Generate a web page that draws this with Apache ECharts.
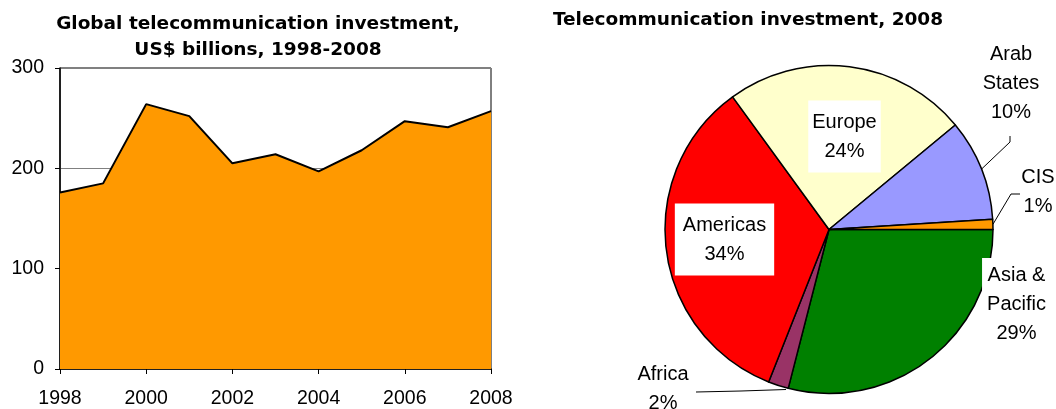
<!DOCTYPE html>
<html>
<head>
<meta charset="utf-8">
<script src="https://cdn.jsdelivr.net/npm/echarts@6/dist/echarts.min.js"></script>
<style>
  html, body { margin: 0; padding: 0; background: #fff; }
  #chart { width: 1056px; height: 409px; }
</style>
</head>
<body>
<div id="chart"></div>
<script>
// Global telecom investment, US$ billions
const years = ['1998', '1999', '2000', '2001', '2002', '2003', '2004', '2005', '2006', '2007', '2008'];
const investment = [176, 185, 264, 252, 205, 214, 197, 218, 247, 241, 257];
const yMin = 0, yMax = 300, yStep = 100;

// Regional shares of 2008 investment (%)
const regions = ['Asia & Pacific', 'Africa', 'Americas', 'Europe', 'Arab States', 'CIS'];
const shares2008 = [29, 2, 34, 24, 10, 1];

const regionColors = {
  'Asia & Pacific': '#008000',
  'Africa': '#993366',
  'Americas': '#FF0000',
  'Europe': '#FFFFCC',
  'Arab States': '#9999FF',
  'CIS': '#FF9900'
};

// Where each region's label sits, and the bends of its leader line
const labelPlacement = {
  'Asia & Pacific': { x: 1016.5, y: 304.5, box: true, pad: [3, 5, 3, 5] },
  'Africa':         { x: 663, y: 389, line: [[741, 391], [696, 392]], lineStart: [786, 389.5] },
  'Americas':       { x: 724.5, y: 239.5, box: true, pad: [7, 8] },
  'Europe':         { x: 844.5, y: 136.5, box: true, pad: [7, 4] },
  'Arab States':    { x: 1011, y: 83, line: [[1010, 142], [1010, 136]] },
  'CIS':            { x: 1038, y: 192, line: [[1011, 194], [1020, 194]] }
};

const baseFont = "'Liberation Sans', Arial, Helvetica, sans-serif";
const titleFont = "'DejaVu Sans', 'Liberation Sans', Arial, sans-serif";

const pieData = regions.map((name, i) => {
  const place = labelPlacement[name];
  return {
    name: name,
    value: shares2008[i],
    itemStyle: { color: regionColors[name] },
    label: place.box
      ? { backgroundColor: '#fff', padding: place.pad }
      : { backgroundColor: 'transparent', padding: 0 },
    labelLine: { show: !!place.line }
  };
});

const chart = echarts.init(document.getElementById('chart'), null, { renderer: 'canvas' });

chart.setOption({
  animation: false,
  backgroundColor: '#fff',
  title: [
    {
      text: 'Global telecommunication investment,\nUS$ billions, 1998-2008',
      left: 258, top: 11, textAlign: 'center', padding: 0,
      textStyle: { fontFamily: titleFont, fontWeight: 'bold', fontSize: 18.5, lineHeight: 26, color: '#000' }
    },
    {
      text: 'Telecommunication investment, 2008',
      left: 748, top: 7, textAlign: 'center', padding: 0,
      textStyle: { fontFamily: titleFont, fontWeight: 'bold', fontSize: 18.5, lineHeight: 26, color: '#000' }
    }
  ],
  grid: {
    left: 60, right: 565, top: 68, bottom: 39,
    show: true, borderColor: '#000', borderWidth: 1, backgroundColor: 'transparent'
  },
  xAxis: {
    type: 'category',
    data: years,
    boundaryGap: false,
    axisLine: { lineStyle: { color: '#000', width: 1.5 } },
    axisTick: { show: true, interval: 1, length: 5, lineStyle: { color: '#000', width: 1 } },
    axisLabel: { interval: 1, color: '#000', fontSize: 19.5, fontFamily: baseFont, margin: 20 },
    splitLine: { show: false }
  },
  yAxis: {
    type: 'value',
    min: yMin, max: yMax, interval: yStep,
    axisLine: { show: true, lineStyle: { color: '#000', width: 1.5 } },
    axisTick: { show: true, length: 5, lineStyle: { color: '#000', width: 1 } },
    axisLabel: { color: '#000', fontSize: 19.5, fontFamily: baseFont, margin: 16 },
    splitLine: { show: true, lineStyle: { color: '#808080', width: 1 } }
  },
  series: [
    {
      type: 'line',
      data: investment,
      symbol: 'none',
      silent: true,
      lineStyle: { color: '#000', width: 2 },
      areaStyle: { color: '#FF9900', opacity: 1 },
      z: 3
    },
    {
      type: 'pie',
      center: [829, 229.5],
      radius: [0, 164],
      startAngle: 0,
      clockwise: true,
      silent: true,
      avoidLabelOverlap: false,
      data: pieData,
      itemStyle: { borderColor: '#000', borderWidth: 1.5 },
      label: {
        show: true,
        position: 'outside',
        formatter: (p) => p.name.replace(/ (\S+)$/, '\n$1') + '\n' + Math.round(p.percent) + '%',
        color: '#000',
        fontSize: 20,
        lineHeight: 29,
        fontFamily: baseFont,
        align: 'center'
      },
      labelLine: { show: true, length: 10, length2: 10, smooth: false, lineStyle: { color: '#000', width: 1 } },
      labelLayout: (p) => {
        const place = labelPlacement[regions[p.dataIndex]];
        const out = { x: place.x, y: place.y, align: 'center', verticalAlign: 'middle' };
        if (place.line && p.labelLinePoints) {
          out.labelLinePoints = [place.lineStart || p.labelLinePoints[0]].concat(place.line);
        }
        return out;
      },
      emphasis: { disabled: true }
    }
  ]
});
</script>
</body>
</html>
